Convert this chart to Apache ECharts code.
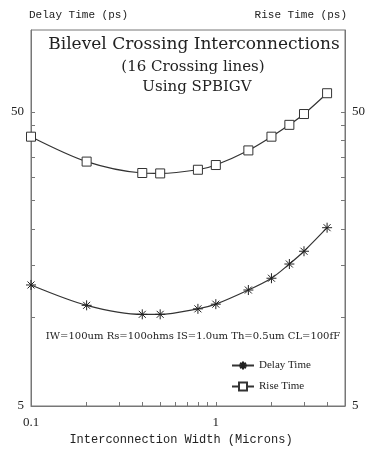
<!DOCTYPE html>
<html>
<head>
<meta charset="utf-8">
<script src="https://cdn.jsdelivr.net/npm/echarts@6/dist/echarts.min.js"></script>
<style>
  html, body { margin: 0; padding: 0; background: #fff; }
  #chart { width: 368px; height: 451px; }
</style>
</head>
<body>
<div id="chart"></div>
<script>
// interconnection width (microns)
const widths = [0.1, 0.2, 0.4, 0.5, 0.8, 1.0, 1.5, 2.0, 2.5, 3.0, 4.0];
// delay time (ps)
const delayTime = [12.9, 11.0, 10.25, 10.25, 10.7, 11.1, 12.4, 13.6, 15.2, 16.8, 20.2];
// rise time (ps)
const riseTime = [41.2, 33.9, 31.0, 30.9, 31.8, 33.0, 37.0, 41.2, 45.2, 49.2, 57.9];

const xTicks = [0.2, 0.3, 0.4, 0.5, 0.6, 0.7, 0.8, 0.9, 1, 2, 3, 4];
const xLabels = [0.1, 1];
const yTicks = [10, 15, 20, 25, 30, 35, 40, 45, 50];
const yLabels = [5, 50];

const serif = '"DejaVu Serif", "Liberation Serif", serif';
const mono = '"Liberation Mono", "DejaVu Sans Mono", monospace';
const ink = '#222';
const asterisk = 'path://M0,5L10,5M5,0L5,10M1.5,1.5L8.5,8.5M8.5,1.5L1.5,8.5';

const myChart = echarts.init(document.getElementById('chart'));

function yAxisCfg(pos, name) {
  return {
    type: 'log',
    position: pos,
    min: 5,
    max: 95,
    name: name,
    nameLocation: 'end',
    nameGap: 9,
    nameTextStyle: {
      fontFamily: mono, fontSize: 11, color: ink,
      align: pos === 'left' ? 'left' : 'right',
      padding: pos === 'left' ? [0, 0, 0, -2] : [0, -2, 0, 0]
    },
    axisLine: { show: true, lineStyle: { color: '#777', width: 1 } },
    axisTick: { show: true, inside: true, length: 4, customValues: yTicks, lineStyle: { color: '#777' } },
    axisLabel: {
      customValues: yLabels, margin: 7,
      fontFamily: '"Liberation Serif", serif', fontSize: 13, color: ink
    },
    splitLine: { show: false },
    minorTick: { show: false }
  };
}

// titles and run parameters
const texts = [
  ['Bilevel Crossing Interconnections', 17, 194, 45],
  ['(16 Crossing lines)', 15, 193, 67],
  ['Using SPBIGV', 15, 197, 87],
  ['IW=100um Rs=100ohms IS=1.0um Th=0.5um CL=100fF', 10, 193, 336]
];

myChart.setOption({
  animation: false,
  backgroundColor: '#fff',
  grid: { left: 31, right: 20, top: 30, bottom: 44, show: true, borderColor: '#777', borderWidth: 1 },
  graphic: texts.map(t => ({
    type: 'text',
    silent: true,
    x: t[2],
    y: t[3],
    style: { text: t[0], font: t[1] + 'px ' + serif, fill: ink, align: 'center', verticalAlign: 'middle' }
  })),
  legend: {
    orient: 'vertical',
    left: 226,
    top: 355,
    itemWidth: 22,
    itemHeight: 10,
    itemGap: 10,
    textStyle: { fontFamily: '"Liberation Serif", serif', fontSize: 11, color: ink },
    data: ['Delay Time', 'Rise Time']
  },
  xAxis: {
    type: 'log',
    min: 0.1,
    max: 5,
    name: 'Interconnection Width (Microns)',
    nameLocation: 'middle',
    nameGap: 28,
    nameTextStyle: { fontFamily: mono, fontSize: 12, color: ink, padding: [0, 14, 0, 0] },
    axisLine: { show: true, lineStyle: { color: '#777', width: 1 } },
    axisTick: { show: true, inside: true, length: 4, customValues: xTicks, lineStyle: { color: '#777' } },
    axisLabel: {
      customValues: xLabels, margin: 10,
      fontFamily: '"Liberation Serif", serif', fontSize: 13, color: ink
    },
    splitLine: { show: false },
    minorTick: { show: false }
  },
  yAxis: [yAxisCfg('left', 'Delay Time (ps)'), yAxisCfg('right', 'Rise Time (ps)')],
  series: [
    {
      name: 'Delay Time',
      type: 'line',
      smooth: 0.3,
      yAxisIndex: 0,
      symbol: asterisk,
      symbolSize: 10,
      itemStyle: { color: ink, borderColor: ink, borderWidth: 1 },
      lineStyle: { color: '#333', width: 1.2 },
      data: widths.map((w, i) => [w, delayTime[i]])
    },
    {
      name: 'Rise Time',
      type: 'line',
      smooth: 0.3,
      yAxisIndex: 1,
      symbol: 'rect',
      symbolSize: 9,
      itemStyle: { color: '#fff', borderColor: '#333', borderWidth: 1 },
      lineStyle: { color: '#333', width: 1.2 },
      data: widths.map((w, i) => [w, riseTime[i]])
    }
  ]
});

window.onresize = function () {
  myChart.resize();
};
</script>
</body>
</html>
